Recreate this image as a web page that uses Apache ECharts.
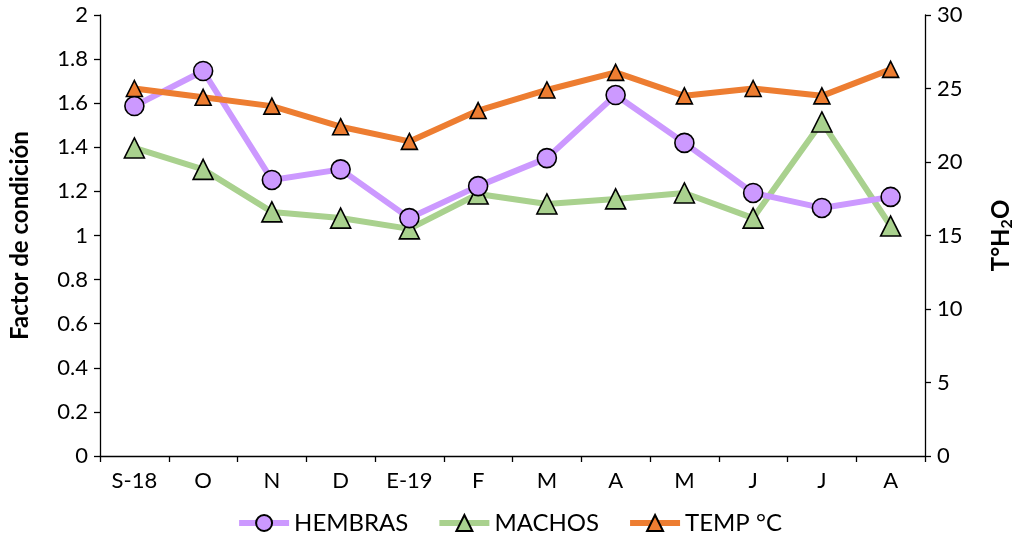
<!DOCTYPE html>
<html><head><meta charset="utf-8">
<script src="https://cdn.jsdelivr.net/npm/echarts@6/dist/echarts.min.js"></script>
<style>html,body{margin:0;padding:0;background:#fff}#c{width:1018px;height:540px}</style>
</head><body><div id="c"></div>
<script>
const categories = ['S-18','O','N','D','E-19','F','M','A','M','J','J','A'];
const hembras = [1.587,1.746,1.252,1.30,1.079,1.224,1.351,1.637,1.42,1.193,1.125,1.175];
const machos = [1.397,1.30,1.107,1.079,1.03,1.188,1.143,1.166,1.193,1.079,1.515,1.043];
const temp = [25.0,24.4,23.8,22.4,21.4,23.5,24.9,26.1,24.5,25.0,24.5,26.3];
const leftTicks = {min:0,max:2,interval:0.2};
const rightTicks = {min:0,max:30,interval:5};

const FONT = 'Lato';
const chart = echarts.init(document.getElementById('c'));
const axisCommon = {
  axisLine:{show:true,lineStyle:{color:'#000',width:1.3}},
  axisTick:{show:true,inside:false,length:6,lineStyle:{color:'#000',width:1.3}},
  splitLine:{show:false},
  axisLabel:{color:'#000',fontFamily:FONT,fontSize:22}
};
chart.setOption({
  animation:false,
  textStyle:{fontFamily:FONT},
  grid:{left:100,right:93,top:15,bottom:84,containLabel:false,outerBoundsMode:'none'},
  legend:{
    bottom:0,left:'center',itemWidth:50,itemHeight:20,itemGap:28,
    lineStyle:{width:6},
    textStyle:{fontFamily:FONT,fontSize:24,color:'#000'},
    data:['HEMBRAS','MACHOS','TEMP °C']
  },
  xAxis:{type:'category',data:categories,boundaryGap:true,...axisCommon,
    axisTick:{show:true,length:6,alignWithLabel:false,lineStyle:{color:'#000',width:1.3}},
    axisLabel:{color:'#000',fontFamily:FONT,fontSize:22,margin:14,interval:0}},
  yAxis:[
    {type:'value',...leftTicks,position:'left',...axisCommon,
     axisLabel:{...axisCommon.axisLabel,margin:12,formatter:v=>String(+v.toFixed(1))},
     name:'Factor de condición',nameLocation:'middle',nameGap:68,nameRotate:90,
     nameTextStyle:{fontFamily:FONT,fontSize:24,fontWeight:'bold',color:'#000'}},
    {type:'value',...rightTicks,position:'right',...axisCommon,
     axisLabel:{...axisCommon.axisLabel,margin:12},
     name:'{b|T°H}{s|2}{b|O}',nameLocation:'middle',nameGap:62,nameRotate:90,
     nameTextStyle:{fontFamily:FONT,fontSize:24,fontWeight:'bold',color:'#000',
       rich:{b:{fontFamily:FONT,fontSize:24,fontWeight:'bold',color:'#000'},
             s:{fontFamily:FONT,fontSize:16,fontWeight:'bold',color:'#000',padding:[12,0,0,0]}}}}
  ],
  series:[
    {name:'HEMBRAS',type:'line',data:hembras,yAxisIndex:0,symbol:'circle',symbolSize:19,
     lineStyle:{color:'#CC99FF',width:6},itemStyle:{color:'#CC99FF',borderColor:'#000',borderWidth:1.6},z:3},
    {name:'MACHOS',type:'line',data:machos,yAxisIndex:0,symbol:'triangle',symbolSize:20,
     lineStyle:{color:'#A9D18E',width:6},itemStyle:{color:'#A9D18E',borderColor:'#000',borderWidth:1.6},z:2},
    {name:'TEMP °C',type:'line',data:temp,yAxisIndex:1,symbol:'triangle',symbolSize:16,
     lineStyle:{color:'#ED7D31',width:6},itemStyle:{color:'#ED7D31',borderColor:'#000',borderWidth:1.6},z:4}
  ]
});
</script></body></html>
